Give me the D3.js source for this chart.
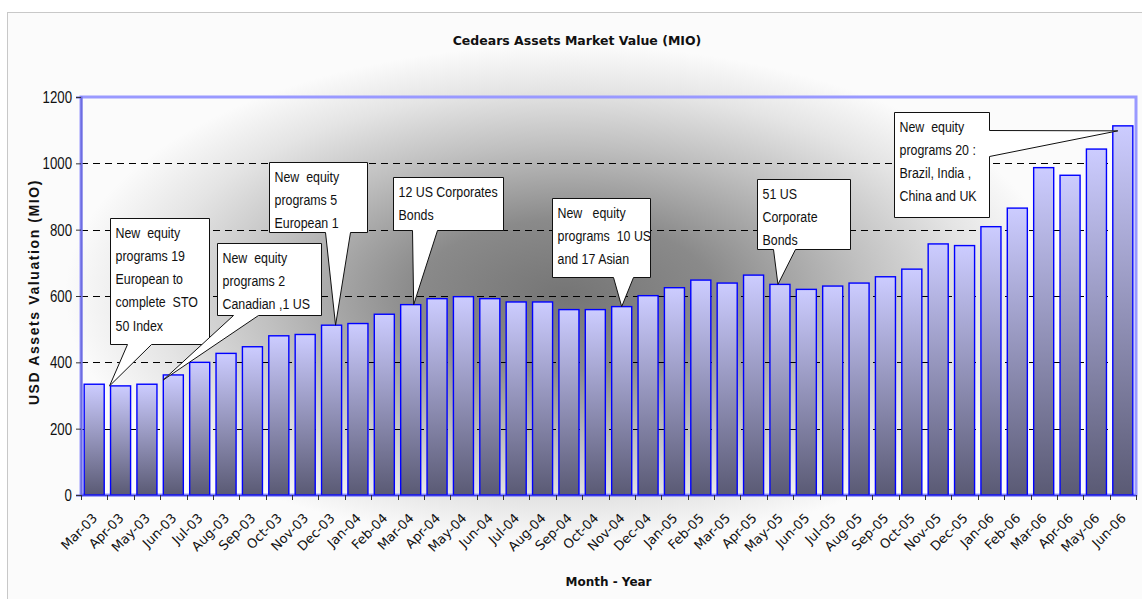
<!DOCTYPE html>
<html>
<head>
<meta charset="utf-8">
<script src="https://cdn.jsdelivr.net/npm/d3@7"></script>
<style>
  body { margin: 0; background: #ffffff; }
  svg { display: block; }
</style>
</head>
<body>
<svg id="chart"></svg>
<script>
// month labels, Mar-03 .. Jun-06
var months = ["Mar-03","Apr-03","May-03","Jun-03","Jul-03","Aug-03","Sep-03","Oct-03","Nov-03","Dec-03",
	"Jan-04","Feb-04","Mar-04","Apr-04","May-04","Jun-04","Jul-04","Aug-04","Sep-04","Oct-04","Nov-04","Dec-04",
	"Jan-05","Feb-05","Mar-05","Apr-05","May-05","Jun-05","Jul-05","Aug-05","Sep-05","Oct-05","Nov-05","Dec-05",
	"Jan-06","Feb-06","Mar-06","Apr-06","May-06","Jun-06"];
// market value, USD MIO
var values = [334,329,334,362,400,427,447,480,484,512,
	517,545,574,592,598,592,582,582,559,559,568,601,
	625,648,639,663,635,620,630,639,658,681,757,752,
	809,865,987,964,1043,1113];
var yTicks = [0,200,400,600,800,1000,1200];

// callouts: which month they point at and what they say
var noteMonths = ["Apr-03","Jun-03","Dec-03","Mar-04","Nov-04","May-05","Jun-06"];
var noteTexts = [
	["New  equity","programs 19","European to","complete  STO","50 Index"],
	["New  equity","programs 2","Canadian ,1 US"],
	["New  equity","programs 5","European 1"],
	["12 US Corporates","Bonds"],
	["New   equity","programs  10 US","and 17 Asian"],
	["51 US","Corporate","Bonds"],
	["New  equity","programs 20 :","Brazil, India ,","China and UK"]
];

var W = 1142, H = 599;
var margin = {top: 97, right: 6, bottom: 104, left: 81},
	width = W - margin.left - margin.right,
	height = H - margin.top - margin.bottom;

var narrow = "'Liberation Sans', Arial, sans-serif";

var svg = d3.select("#chart").attr("width", W).attr("height", H);
var defs = svg.append("defs");

var bg = defs.append("radialGradient")
	.attr("id", "bgGrad")
	.attr("gradientUnits", "userSpaceOnUse")
	.attr("cx", 565).attr("cy", 295).attr("r", 500)
	.attr("gradientTransform", "translate(565,295) scale(1,0.5) translate(-565,-295)");
bg.append("stop").attr("offset", "0").attr("stop-color", "#757575");
bg.append("stop").attr("offset", "0.3").attr("stop-color", "#8a8a8a");
bg.append("stop").attr("offset", "0.6").attr("stop-color", "#c0c0c0");
bg.append("stop").attr("offset", "0.82").attr("stop-color", "#e4e4e4");
bg.append("stop").attr("offset", "1").attr("stop-color", "#fbfbfb");

var barGrad = defs.append("linearGradient")
	.attr("id", "barGrad")
	.attr("x1", 0).attr("y1", 0).attr("x2", 0).attr("y2", 1);
barGrad.append("stop").attr("offset", "0").attr("stop-color", "#ccccff");
barGrad.append("stop").attr("offset", "1").attr("stop-color", "#5a5a74");

// chart area background + outer frame
svg.append("rect")
	.attr("x", 7.5).attr("y", 12.5)
	.attr("width", W).attr("height", H)
	.attr("fill", "url(#bgGrad)")
	.attr("stroke", "#c8c8c8");

var g = svg.append("g")
	.attr("transform", "translate(" + margin.left + "," + margin.top + ")");

var x = d3.scaleBand()
	.domain(months)
	.range([0, width])
	.paddingInner(0.24)
	.paddingOuter(0.12);

var y = d3.scaleLinear()
	.domain([0, 1200])
	.range([height, 0]);

// grid lines
g.selectAll(".grid")
	.data(yTicks.filter(d => d > 0 && d < 1200))
	.enter()
	.append("line")
		.attr("class", "grid")
		.attr("x1", 0).attr("x2", width)
		.attr("y1", d => Math.round(y(d)) + 0.5)
		.attr("y2", d => Math.round(y(d)) + 0.5)
		.attr("stroke", "#000")
		.attr("stroke-width", 1)
		.attr("stroke-dasharray", "7,5");

// plot frame
g.append("rect")
	.attr("x", 0).attr("y", 0)
	.attr("width", width).attr("height", height)
	.attr("fill", "none")
	.attr("stroke", "#9999ff")
	.attr("stroke-width", 3);

// bars
g.selectAll(".bar")
	.data(values)
	.enter()
	.append("rect")
		.attr("class", "bar")
		.attr("x", (d, i) => x(months[i]))
		.attr("y", d => y(d))
		.attr("width", x.bandwidth())
		.attr("height", d => height - y(d))
		.attr("fill", "url(#barGrad)")
		.attr("stroke", "#0000ff")
		.attr("stroke-width", 1.4);

// y axis
var yAxis = g.append("g")
	.call(d3.axisLeft(y).tickValues(yTicks).tickSize(5).tickFormat(""));
yAxis.select(".domain").attr("stroke", "#6d6de0").attr("stroke-width", 2);
yAxis.selectAll(".tick line").attr("stroke", "#333");
yAxis.selectAll(".ylabel")
	.data(yTicks)
	.enter()
	.append("text")
		.attr("class", "ylabel")
		.attr("text-anchor", "end")
		.attr("transform", d => "translate(-9," + (y(d) + 6) + ") scale(0.78,1)")
		.text(d => d)
		.style("font-family", narrow)
		.attr("font-size", "17px")
		.attr("fill", "#111");

// x axis, ticks on band boundaries
var xAxis = g.append("g")
	.attr("transform", "translate(0," + height + ")");
xAxis.append("line")
	.attr("x1", 0).attr("x2", width)
	.attr("y1", 0.5).attr("y2", 0.5)
	.attr("stroke", "#3a3ae8").attr("stroke-width", 1.5);
xAxis.selectAll(".xtick")
	.data(d3.range(months.length + 1))
	.enter()
	.append("line")
		.attr("x1", i => Math.round(i * width / months.length) + 0.5)
		.attr("x2", i => Math.round(i * width / months.length) + 0.5)
		.attr("y1", 0).attr("y2", 5)
		.attr("stroke", "#333");
xAxis.selectAll(".xlabel")
	.data(months)
	.enter()
	.append("text")
		.attr("class", "xlabel")
		.attr("text-anchor", "end")
		.attr("transform", d => "translate(" + (x(d) + x.bandwidth() / 2 + 4) + ",24) rotate(-45)")
		.text(d => d)
		.style("font-family", "'DejaVu Sans', Verdana, sans-serif")
		.attr("font-size", "13px")
		.attr("fill", "#111");

// titles
svg.append("text")
	.attr("text-anchor", "middle")
	.attr("x", 577).attr("y", 45)
	.text("Cedears Assets Market Value (MIO)")
	.style("font-family", "'DejaVu Sans', Verdana, sans-serif")
	.attr("font-size", "12.5px")
	.attr("font-weight", "bold")
	.attr("fill", "#111");

svg.append("text")
	.attr("text-anchor", "middle")
	.attr("x", margin.left + width / 2).attr("y", 586)
	.text("Month - Year")
	.style("font-family", "'DejaVu Sans', Verdana, sans-serif")
	.attr("font-size", "12px")
	.attr("font-weight", "bold")
	.attr("fill", "#111");

svg.append("text")
	.attr("text-anchor", "middle")
	.attr("transform", "translate(39,292) rotate(-90)")
	.text("USD Assets Valuation (MIO)")
	.style("font-family", narrow)
	.style("letter-spacing", "1.6px")
	.attr("font-size", "14px")
	.attr("font-weight", "bold")
	.attr("fill", "#111");

// callout layout relative to its tip: box offset/size, wedge base along an edge
var noteLayout = [
	{tipDx: -11, tipDy: 0, bx: 0,    by: -168, bw: 99,  bh: 126, side: "bottom", w0: 17, w1: 41},
	{tipDx: -10, tipDy: 5, bx: 54,   by: -137, bw: 104, bh: 72,  side: "bottom", w0: 16, w1: 41},
	{tipDx: 4,   tipDy: 0, bx: -67,  by: -163, bw: 98,  bh: 70,  side: "bottom", w0: 56, w1: 81},
	{tipDx: 3,   tipDy: 0, bx: -21,  by: -128, bw: 110, bh: 53,  side: "bottom", w0: 19, w1: 44},
	{tipDx: 0,   tipDy: 0, bx: -70,  by: -109, bw: 98,  bh: 79,  side: "bottom", w0: 61, w1: 81},
	{tipDx: -2,  tipDy: 0, bx: -21,  by: -105, bw: 93,  bh: 70,  side: "bottom", w0: 16, w1: 38},
	{tipDx: -5,  tipDy: 5, bx: -224, by: -19,  bw: 95,  bh: 105, side: "right",  w0: 18, w1: 44}
];

var notes = g.append("g");
for (var i = 0; i < noteMonths.length; i++) {
	var m = noteMonths[i], L = noteLayout[i];
	var tx = x(m) + x.bandwidth() / 2 + L.tipDx,
		ty = y(values[months.indexOf(m)]) + L.tipDy;
	var x0 = Math.round(tx + L.bx) + 0.5, y0 = Math.round(ty + L.by) + 0.5,
		x1 = x0 + L.bw, y1 = y0 + L.bh;
	var p = d3.path();
	p.moveTo(x0, y0);
	p.lineTo(x1, y0);
	if (L.side == "right") {
		p.lineTo(x1, y0 + L.w0);
		p.lineTo(tx, ty);
		p.lineTo(x1, y0 + L.w1);
		p.lineTo(x1, y1);
		p.lineTo(x0, y1);
	} else {
		p.lineTo(x1, y1);
		p.lineTo(x0 + L.w1, y1);
		p.lineTo(tx, ty);
		p.lineTo(x0 + L.w0, y1);
		p.lineTo(x0, y1);
	}
	p.closePath();
	notes.append("path")
		.attr("d", p.toString())
		.attr("fill", "#fff")
		.attr("stroke", "#111")
		.attr("stroke-width", 1);

	notes.append("g")
		.attr("transform", "translate(" + (x0 + 5) + "," + (y0 + 19) + ") scale(0.8,1)")
		.selectAll("text")
		.data(noteTexts[i])
		.enter()
		.append("text")
			.attr("x", 0)
			.attr("y", (d, k) => k * 23.3)
			.style("white-space", "pre")
			.text(d => d)
			.style("font-family", narrow)
			.attr("font-size", "15.5px")
			.attr("fill", "#111");
}
</script>
</body>
</html>
